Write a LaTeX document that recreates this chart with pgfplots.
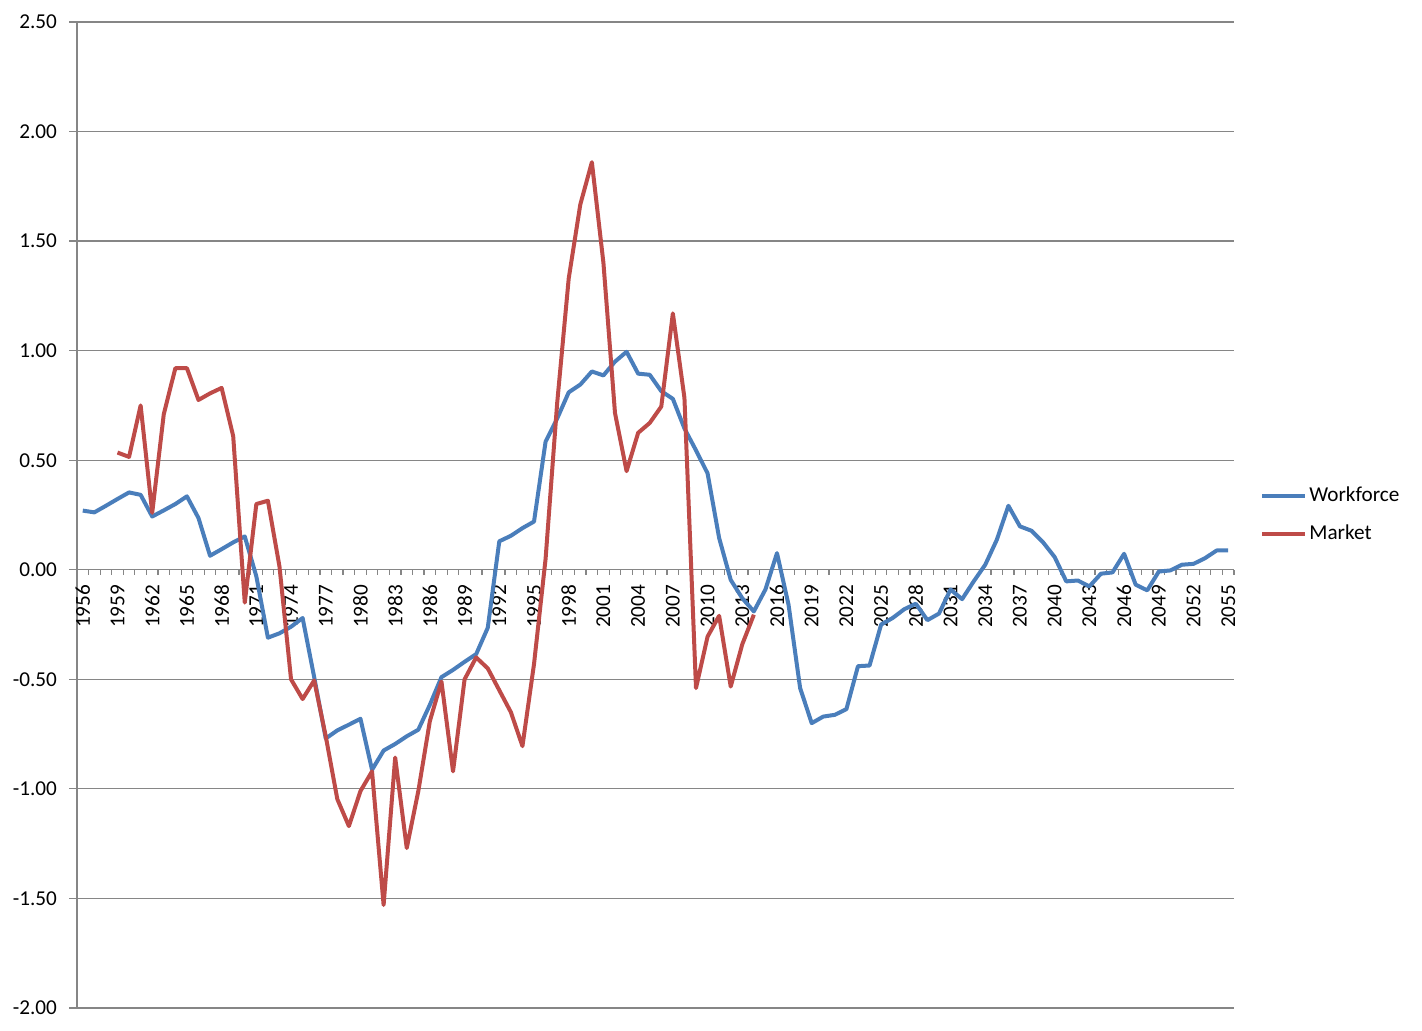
\documentclass[border=0pt]{standalone}
\usepackage{fontspec}
\setmainfont{Carlito}
\usepackage{pgfplots}
\pgfplotsset{compat=1.18}
\definecolor{wf}{HTML}{4A7EBB}
\definecolor{mk}{HTML}{BE4B48}
\definecolor{gridc}{HTML}{868686}

\pgfplotstableread{
year val
1956 0.270
1957 0.262
1958 0.292
1959 0.323
1960 0.353
1961 0.342
1962 0.243
1963 0.271
1964 0.300
1965 0.335
1966 0.236
1967 0.064
1968 0.094
1969 0.125
1970 0.152
1971 -0.030
1972 -0.310
1973 -0.290
1974 -0.260
1975 -0.220
1976 -0.490
1977 -0.770
1978 -0.733
1979 -0.707
1980 -0.680
1981 -0.913
1982 -0.825
1983 -0.795
1984 -0.760
1985 -0.730
1986 -0.616
1987 -0.490
1988 -0.457
1989 -0.420
1990 -0.385
1991 -0.265
1992 0.130
1993 0.155
1994 0.190
1995 0.220
1996 0.585
1997 0.690
1998 0.810
1999 0.845
2000 0.905
2001 0.887
2002 0.950
2003 0.995
2004 0.895
2005 0.890
2006 0.815
2007 0.780
2008 0.645
2009 0.545
2010 0.440
2011 0.145
2012 -0.046
2013 -0.130
2014 -0.190
2015 -0.090
2016 0.076
2017 -0.160
2018 -0.540
2019 -0.700
2020 -0.670
2021 -0.662
2022 -0.636
2023 -0.440
2024 -0.437
2025 -0.250
2026 -0.220
2027 -0.180
2028 -0.155
2029 -0.230
2030 -0.200
2031 -0.090
2032 -0.134
2033 -0.053
2034 0.023
2035 0.137
2036 0.292
2037 0.198
2038 0.178
2039 0.125
2040 0.058
2041 -0.053
2042 -0.049
2043 -0.076
2044 -0.018
2045 -0.012
2046 0.073
2047 -0.068
2048 -0.094
2049 -0.008
2050 -0.003
2051 0.023
2052 0.027
2053 0.053
2054 0.088
2055 0.088
}\workforce

\pgfplotstableread{
year val
1959 0.535
1960 0.515
1961 0.750
1962 0.260
1963 0.710
1964 0.920
1965 0.920
1966 0.775
1967 0.805
1968 0.830
1969 0.610
1970 -0.150
1971 0.300
1972 0.315
1973 0.015
1974 -0.500
1975 -0.590
1976 -0.505
1977 -0.760
1978 -1.047
1979 -1.170
1980 -1.010
1981 -0.920
1982 -1.530
1983 -0.857
1984 -1.270
1985 -1.010
1986 -0.690
1987 -0.510
1988 -0.920
1989 -0.500
1990 -0.400
1991 -0.450
1992 -0.550
1993 -0.650
1994 -0.805
1995 -0.430
1996 0.050
1997 0.760
1998 1.330
1999 1.667
2000 1.860
2001 1.400
2002 0.715
2003 0.450
2004 0.625
2005 0.670
2006 0.745
2007 1.170
2008 0.785
2009 -0.540
2010 -0.305
2011 -0.210
2012 -0.533
2013 -0.340
2014 -0.205
}\market

\begin{document}
\begin{tikzpicture}
\begin{axis}[
  at={(0,0)}, anchor=south west,
  scale only axis, width=578.5pt, height=493pt,
  xmin=1955.5, xmax=2055.5, ymin=-2, ymax=2.5,
  axis x line*=middle, axis y line*=left,
  axis line style={gridc, line width=0.6pt},
  ytick={-2,-1.5,...,2.5},
  ymajorgrids, grid style={gridc, line width=0.6pt},
  xtick={1956,1959,...,2055},
  minor xtick={1955.5,1956.5,...,2055.5},
  tick align=outside,
  major tick length=4pt, minor tick length=2.5pt,
  tick style={gridc, line width=0.6pt},
  major x tick style={draw=none},
  /pgf/number format/assume math mode=true,
  xticklabel={\pgfmathprintnumber[fixed,precision=0,1000 sep={}]{\tick}},
  yticklabel={\pgfmathprintnumber[fixed,fixed zerofill,precision=2]{\tick}},
  xticklabel style={rotate=90, anchor=east, font=\fontsize{10.6}{12}\selectfont},
  yticklabel style={font=\fontsize{10.6}{12}\selectfont, xshift=-2.5pt},
  legend style={draw=none, fill=none, at={(1,0.5)}, anchor=west, xshift=13pt,
    font=\fontsize{10.6}{12}\selectfont, row sep=8pt, inner sep=0pt,
    nodes={inner sep=1pt}},
  legend cell align=left,
  legend image code/.code={\draw[#1] (0pt,0pt) -- (21.5pt,0pt);},
]
\addplot[wf, line width=2pt, line join=round] table[x=year,y=val] {\workforce};
\addlegendentry{Workforce}
\addplot[mk, line width=2pt, line join=round] table[x=year,y=val] {\market};
\addlegendentry{Market}
\end{axis}
\pgfresetboundingbox
\useasboundingbox (-38.5pt,-11.5pt) rectangle (672.5pt,504pt);
\end{tikzpicture}
\end{document}
